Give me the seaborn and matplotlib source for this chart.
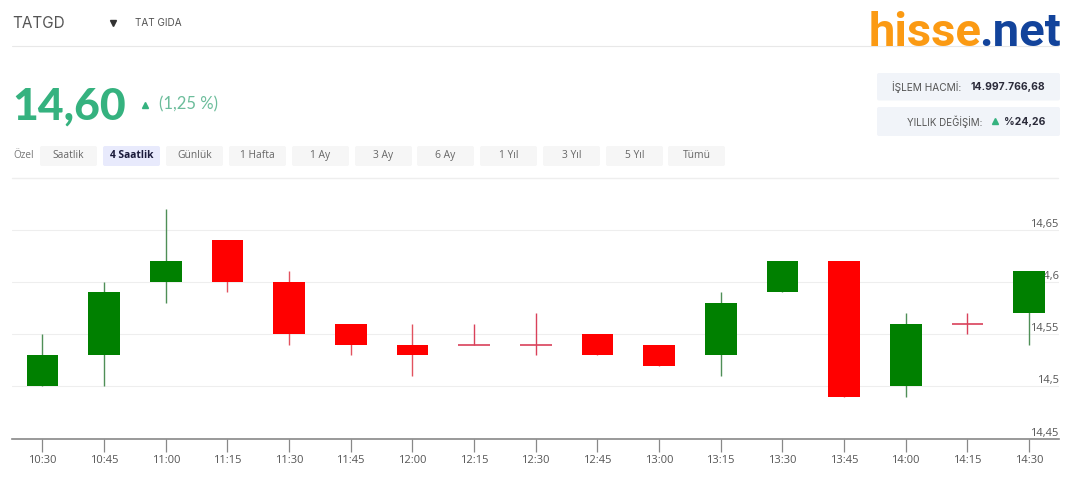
import pandas as pd
import seaborn as sns
import matplotlib.pyplot as plt
from matplotlib.patches import FancyBboxPatch

times = ['10:30', '10:45', '11:00', '11:15', '11:30', '11:45', '12:00', '12:15', '12:30',
         '12:45', '13:00', '13:15', '13:30', '13:45', '14:00', '14:15', '14:30']
opens = [14.50, 14.53, 14.60, 14.64, 14.60, 14.56, 14.54, 14.54, 14.54,
         14.55, 14.54, 14.53, 14.59, 14.62, 14.50, 14.56, 14.57]
closes = [14.53, 14.59, 14.62, 14.60, 14.55, 14.54, 14.53, 14.54, 14.54,
          14.53, 14.52, 14.58, 14.62, 14.49, 14.56, 14.56, 14.61]
highs = [14.55, 14.60, 14.67, 14.64, 14.61, 14.56, 14.56, 14.56, 14.57,
         14.55, 14.54, 14.59, 14.62, 14.62, 14.57, 14.57, 14.61]
lows = [14.50, 14.50, 14.58, 14.59, 14.54, 14.53, 14.51, 14.54, 14.53,
        14.53, 14.52, 14.51, 14.59, 14.49, 14.49, 14.55, 14.54]
y_ticks = [14.45, 14.5, 14.55, 14.6, 14.65]
y_labels = ['14,45', '14,5', '14,55', '14,6', '14,65']
periods = ['Saatlik', '4 Saatlik', 'Günlük', '1 Hafta', '1 Ay', '3 Ay', '6 Ay', '1 Yıl', '3 Yıl', '5 Yıl', 'Tümü']
period_left = [40, 103, 166, 229, 292, 355, 417, 480, 543, 606, 668]

GREEN = '#008000'
RED = '#ff0000'
UI = 'Inter'
TEAL = '#35b27f'

sns.set_theme(style='white')
plt.rcParams['font.family'] = ['Open Sans', 'DejaVu Sans']

df = pd.DataFrame({'time': times, 'open': opens, 'close': closes, 'high': highs, 'low': lows})
df['pos'] = df.index
df['base'] = df[['open', 'close']].min(axis=1)
df['body'] = (df['close'] - df['open']).abs()
up = df[df['close'] > df['open']]
down = df[df['close'] < df['open']]
flat = df[df['close'] == df['open']]

fig = plt.figure(figsize=(10.8, 4.8), dpi=100)

# page furniture in pixel coordinates
page = fig.add_axes([0, 0, 1, 1], zorder=0)
page.set_xlim(0, 1080)
page.set_ylim(480, 0)
page.axis('off')


def box(x0, y0, x1, y1, color):
    page.add_patch(FancyBboxPatch((x0 + 2, y0 + 2), x1 - x0 - 4, y1 - y0 - 4, boxstyle='round,pad=2',
                                  fc=color, ec='none'))


page.plot([12, 1058], [46, 46], color='#e8e8e8', lw=0.8)
page.plot([12, 1058], [177.5, 177.5], color='#eeeeee', lw=1)

page.text(12, 23, 'TATGD', fontsize=11, color='#555555', family=UI, va='center')
page.plot([112.5], [23], marker='v', ms=4, color='#333333')
page.text(135, 23, 'TAT GIDA', fontsize=7.2, color='#555555', family=UI, va='center')

page.text(869, 46, 'hisse', fontsize=34, fontweight='bold', color='#fb9a13', family='Roboto')
page.text(979, 46, '.net', fontsize=34, fontweight='bold', color='#12439b', family='Roboto')

page.text(12, 120, '14,60', fontsize=32, fontweight=900, color=TEAL, family='Lato')
page.plot([145], [104.5], marker='^', ms=4.5, color=TEAL)
page.text(159, 104, '(1,25 %)', fontsize=12, color='#6cbd9b', family='Lato', va='center')

box(877, 73, 1060, 100.5, '#f1f4f9')
box(877, 107, 1060, 136, '#f1f4f9')
page.text(892, 87, 'İŞLEM HACMİ:', fontsize=7.3, color='#555555', family=UI, va='center')
page.text(1045, 87, '14.997.766,68', fontsize=7.5, fontweight='bold', color='#2b2b3a', family=UI, va='center', ha='right')
page.text(982, 122, 'YILLIK DEĞİŞİM:', fontsize=7, color='#555555', family=UI, va='center', ha='right')
page.plot([995], [121], marker='^', ms=5, color=TEAL)
page.text(1045, 122, '%24,26', fontsize=7.5, fontweight='bold', color='#2b2b3a', family=UI, va='center', ha='right')

page.text(13, 155.5, 'Özel', fontsize=7.2, color='#777777', va='center')
for name, left in zip(periods, period_left):
    active = name == '4 Saatlik'
    box(left, 146, left + 57, 166, '#e8eafc' if active else '#f6f6f6')
    page.text(left + 28.5, 155.5, name, fontsize=7.4, color='#1a1a3a' if active else '#666666',
              fontweight='bold' if active else 'normal', ha='center', va='center')

# candle chart
ax = fig.add_axes([12.4 / 1080, (480 - 438.8) / 480, (1058.6 - 12.4) / 1080, 249.3 / 480], zorder=1)
ax.patch.set_alpha(0)
ax.set_axisbelow(True)

sns.barplot(data=up, x='time', y='body', order=times, bottom=up['base'].values, width=0.514,
            color=GREEN, saturation=1, errorbar=None, linewidth=0, ax=ax)
sns.barplot(data=down, x='time', y='body', order=times, bottom=down['base'].values, width=0.514,
            color=RED, saturation=1, errorbar=None, linewidth=0, ax=ax)

ax.vlines(up['pos'], up['low'], up['high'], color='#4f8f57', lw=1, zorder=0.8)
ax.vlines(down['pos'], down['low'], down['high'], color='#e2525f', lw=1, zorder=0.8)
ax.vlines(flat['pos'], flat['low'], flat['high'], color='#d9415a', lw=1, zorder=0.8)

# open == close candles only have a dash for a body
ax.hlines(flat['close'], flat['pos'] - 0.257, flat['pos'] + 0.257, color='#d9415a', lw=1.2, zorder=2)

ax.set_xlim(-0.488, 16.48)
ax.set_ylim(14.45, 14.45 + 249.3 / 1046)
ax.set_xlabel('')
ax.set_ylabel('')

ax.yaxis.tick_right()
ax.set_yticks(y_ticks)
ax.set_yticklabels(y_labels, ha='right', va='bottom')
ax.tick_params(axis='y', length=0, pad=0, labelsize=8, labelcolor='#555555')
ax.tick_params(axis='x', bottom=True, length=9, width=0.9, color='#888888', pad=2.5, labelsize=8, labelcolor='#555555')
ax.grid(axis='y', color='#eeeeee', lw=0.8)
ax.grid(axis='x', visible=False)

sns.despine(ax=ax, left=True, right=True, top=True)
ax.spines['bottom'].set_color('#888888')
ax.spines['bottom'].set_linewidth(1.2)

fig.savefig('out.png', dpi=100)
